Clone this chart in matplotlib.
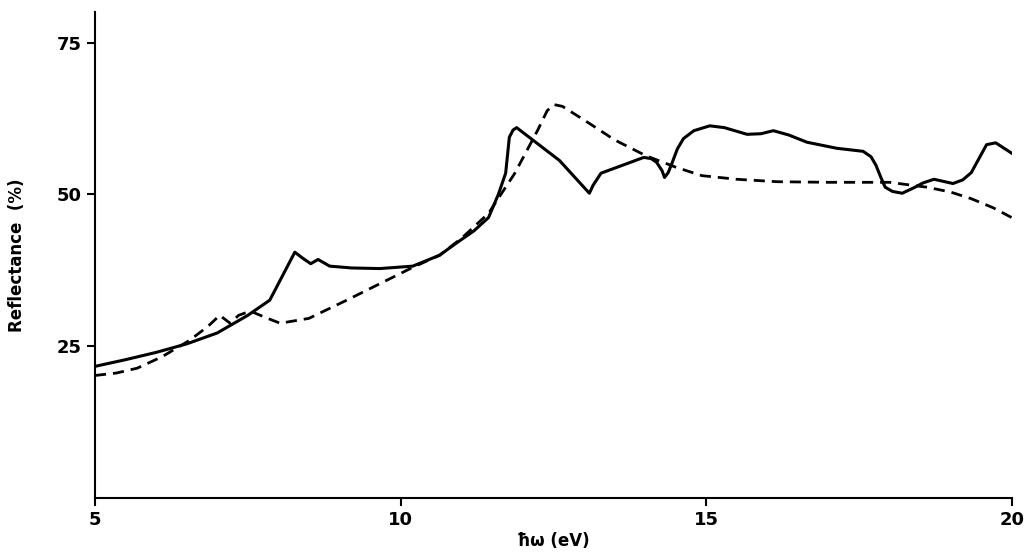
import numpy as np
import matplotlib
matplotlib.use("Agg")
import matplotlib.pyplot as plt

solid_x = [5, 5.5, 6.0, 6.5, 7.0, 7.5, 7.86, 8.27, 8.4, 8.53, 8.65, 8.84, 9.2, 9.66, 10.2, 10.64,
           10.9, 11.2, 11.44, 11.6, 11.72, 11.78, 11.84, 11.9,
           12.6, 13.09, 13.15, 13.28, 13.98, 14.1, 14.19, 14.28, 14.32, 14.38, 14.44, 14.53, 14.63,
           14.8, 15.06, 15.3, 15.67, 15.9, 16.1, 16.35, 16.65, 17.14,
           17.4, 17.57, 17.7, 17.78, 17.86, 17.93, 18.05, 18.21, 18.42, 18.55, 18.73, 19.04,
           19.2, 19.34, 19.47, 19.59, 19.74, 20.0]
solid_y = [21.7, 22.8, 24.0, 25.4, 27.2, 30.1, 32.6, 40.5, 39.5, 38.6, 39.3, 38.2, 37.9, 37.8, 38.2, 40,
           41.9, 44.0, 46.2, 50.0, 53.5, 59.4, 60.6, 61,
           55.6, 50.2, 51.5, 53.5, 56.1, 55.9, 55.3, 53.9, 52.8, 53.6, 55.1, 57.5, 59.2,
           60.5, 61.3, 61.0, 59.9, 60.0, 60.5, 59.8, 58.6, 57.6,
           57.3, 57.1, 56.2, 54.8, 52.8, 51.2, 50.5, 50.2, 51.2, 51.9, 52.5, 51.8,
           52.4, 53.6, 56.0, 58.2, 58.5, 56.8]

dash_x = [5, 5.35, 5.69, 6.1, 6.55, 6.85, 7.04, 7.12, 7.21, 7.35, 7.54, 7.8, 8.03, 8.5, 9.12, 9.7,
          10.2, 10.64, 11.0, 11.44, 11.87, 12.24, 12.4, 12.51, 12.65,
          13.09, 13.5, 14.01, 14.5, 14.93, 15.5, 16.16, 17.0, 18.0, 18.61, 19.0, 19.34, 19.7, 20.0]
dash_y = [20.2, 20.6, 21.4, 23.3, 26, 28.3, 30.1, 29.5, 28.8, 30.1, 30.8, 29.7, 28.8, 29.6, 32.6, 35.5,
          38, 40, 42.8, 46.9, 53.5, 60.5, 63.8, 64.8, 64.5,
          61.7, 59.0, 56.4, 54.5, 53.1, 52.5, 52.1, 52.0, 52, 51.2, 50.4, 49.3, 47.8, 46.2]

xticks = [5, 10, 15, 20]
yticks = [25, 50, 75]

fig = plt.figure(figsize=(10.26, 5.56), dpi=100)
ax = fig.add_axes([0.0926, 0.104, 0.8934, 0.874])
ax.plot(solid_x, solid_y, color="black", lw=2.2, solid_joinstyle="round")
ax.plot(dash_x, dash_y, color="black", lw=2.0, dashes=(4, 2.5))
ax.set_xlim(5, 20)
ax.set_ylim(0, 80)
ax.spines["top"].set_visible(False)
ax.spines["right"].set_visible(False)
for s in ("left", "bottom"):
    ax.spines[s].set_linewidth(1.5)
ax.set_xticks(xticks)
ax.set_yticks(yticks)
ax.tick_params(direction="out", length=6, width=1.5, labelsize=13)
for t in ax.get_xticklabels() + ax.get_yticklabels():
    t.set_fontweight("bold")
ax.set_xlabel("ħω (eV)", fontsize=12, fontweight="bold", labelpad=2)
ax.set_ylabel("Reflectance  (%)", fontsize=12, fontweight="bold", labelpad=22)
fig.savefig("out.png", dpi=100)
